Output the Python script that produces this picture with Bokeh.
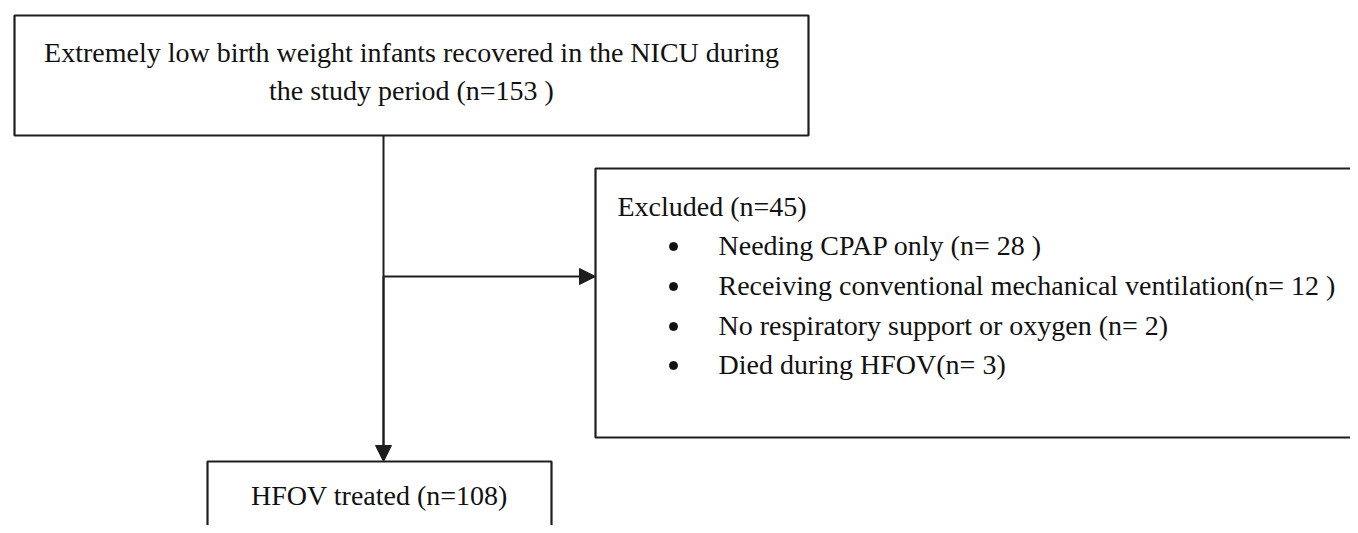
from bokeh.plotting import figure
from bokeh.models import Range1d, Arrow, NormalHead
from bokeh.core.properties import value
from bokeh.embed import file_html
from bokeh.resources import INLINE

# ---- content ----
top_lines = ["Extremely low birth weight infants recovered in the NICU during",
             "the study period (n=153 )"]
excluded_title = "Excluded  (n=45)"
excluded_items = ["Needing CPAP only (n= 28 )",
                  "Receiving conventional mechanical ventilation(n= 12 )",
                  "No respiratory support or oxygen (n= 2)",
                  "Died during HFOV(n= 3)"]
final_label = "HFOV treated (n=108)"

W, H = 1350, 525
p = figure(width=W, height=H, output_backend="svg", toolbar_location=None,
           x_range=Range1d(0, W), y_range=Range1d(H, 0),
           min_border=0)
p.axis.visible = False
p.grid.visible = False
p.outline_line_color = None
p.background_fill_color = "white"
p.border_fill_color = "white"

FONT = value("Liberation Serif")
FS = "28px"
LC = "#1e1e1e"
TC = "#111111"
DY = -10  # baseline correction

# boxes
p.quad(left=[14, 595, 207], right=[808, 1362, 551], top=[15, 168, 461], bottom=[135, 437, 545],
       fill_color="white", line_color=LC, line_width=2.2)

# connector lines
p.line([383, 383], [135, 446], line_color=LC, line_width=2)
p.add_layout(Arrow(end=NormalHead(size=16, fill_color=LC, line_color=LC, line_width=1),
                   x_start=383, y_start=276, x_end=595, y_end=276,
                   line_color=LC, line_width=2))
p.add_layout(Arrow(end=NormalHead(size=16, fill_color=LC, line_color=LC, line_width=1),
                   x_start=383, y_start=276, x_end=383, y_end=461,
                   line_color=LC, line_width=2))

# top box text
p.text(x=[411, 411], y=[62 + DY, 100 + DY], text=top_lines, text_align="center",
       text_baseline="alphabetic", text_font=FONT, text_font_size=FS, text_color=TC)

# excluded box
p.text(x=[617], y=[216 + DY], text=[excluded_title], text_align="left",
       text_baseline="alphabetic", text_font=FONT, text_font_size=FS, text_color=TC)
ys = [255, 295, 335, 374]
p.text(x=[718] * len(excluded_items), y=[y + DY for y in ys], text=excluded_items, text_align="left",
       text_baseline="alphabetic", text_font=FONT, text_font_size=FS, text_color=TC)
p.scatter(x=[673] * len(excluded_items), y=[y - 9 for y in ys], size=8,
          marker="circle", fill_color=TC, line_color=TC)

# final box
p.text(x=[379], y=[505 + DY], text=[final_label], text_align="center",
       text_baseline="alphabetic", text_font=FONT, text_font_size=FS, text_color=TC)

open("out.html", "w").write(file_html(p, INLINE))
